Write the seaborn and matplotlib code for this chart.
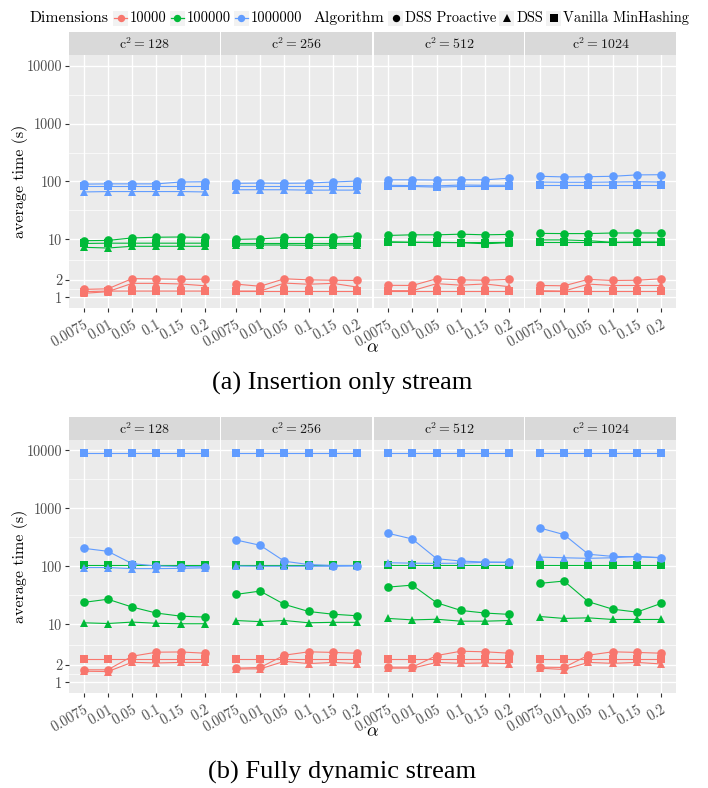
import numpy as np
import pandas as pd
import matplotlib
matplotlib.use("Agg")
import matplotlib.pyplot as plt
import seaborn as sns
from matplotlib.ticker import FixedLocator, NullFormatter
from matplotlib.patches import Rectangle

# ---------------- data ----------------
alpha_labels = ["0.0075", "0.01", "0.05", "0.1", "0.15", "0.2"]
c2_values = [128, 256, 512, 1024]
dimensions = ["10000", "100000", "1000000"]
algorithms = ["DSS Proactive", "DSS", "Vanilla MinHashing"]
y_breaks = [1, 2, 10, 100, 1000, 10000]

# (a) insertion only stream: one row per c^2 facet, values per alpha
ins_pro_d4 = [[1.37, 1.40, 2.10, 2.08, 2.05, 2.05], [1.69, 1.55, 2.09, 2.00, 1.97, 1.95],
              [1.61, 1.60, 2.09, 2.00, 1.97, 2.04], [1.60, 1.58, 2.04, 1.95, 1.97, 2.09]]
ins_dss_d4 = [[1.17, 1.25, 1.74, 1.74, 1.70, 1.58], [1.28, 1.28, 1.76, 1.68, 1.74, 1.50],
              [1.30, 1.30, 1.72, 1.62, 1.70, 1.52], [1.30, 1.28, 1.69, 1.60, 1.60, 1.60]]
ins_van_d4 = [[1.25, 1.28, 1.28, 1.28, 1.28, 1.28], [1.28, 1.28, 1.28, 1.28, 1.28, 1.28],
              [1.28, 1.28, 1.28, 1.28, 1.28, 1.28], [1.28, 1.28, 1.28, 1.28, 1.28, 1.28]]
ins_pro_d5 = [[9.5, 9.6, 10.6, 10.9, 11.0, 10.8], [10.0, 10.2, 10.8, 10.8, 10.8, 11.5],
              [11.7, 12.0, 12.0, 12.3, 12.0, 12.2], [12.7, 12.6, 12.6, 12.9, 12.9, 12.9]]
ins_dss_d5 = [[7.3, 7.1, 7.6, 7.6, 7.6, 7.6], [8.0, 8.0, 8.0, 7.9, 8.0, 8.0],
              [9.1, 8.9, 8.8, 8.8, 8.4, 8.8], [9.8, 9.8, 9.5, 8.9, 9.0, 9.0]]
ins_van_d5 = [[8.5, 8.6, 8.6, 8.6, 8.6, 8.6], [8.8, 8.8, 8.8, 8.8, 8.8, 8.8],
              [8.9, 8.9, 8.9, 8.8, 8.8, 8.9], [9.0, 9.0, 9.0, 9.0, 9.0, 9.0]]
ins_pro_d6 = [[90, 91, 91, 91, 98, 99], [93, 94, 93, 94, 98, 102],
              [107, 107, 106, 107, 107, 114], [123, 120, 121, 123, 130, 131]]
ins_dss_d6 = [[66, 67, 67, 67, 67, 66], [72, 72, 72, 71, 71, 71],
              [86, 85, 84, 87, 86, 86], [98, 97, 97, 98, 99, 98]]
ins_van_d6 = [[84, 84, 84, 84, 84, 84], [85, 85, 85, 85, 85, 85],
              [82, 82, 80, 82, 82, 82], [86, 86, 86, 86, 86, 86]]

# (b) fully dynamic stream
dyn_pro_d4 = [[1.64, 1.64, 2.81, 3.30, 3.33, 3.17], [1.75, 1.80, 2.93, 3.35, 3.27, 3.17],
              [1.82, 1.82, 2.89, 3.43, 3.35, 3.17], [1.82, 1.80, 2.93, 3.35, 3.27, 3.17]]
dyn_dss_d4 = [[1.55, 1.53, 2.21, 2.15, 2.20, 2.20], [1.70, 1.70, 2.30, 2.10, 2.20, 2.10],
              [1.75, 1.75, 2.20, 2.12, 2.15, 2.10], [1.75, 1.66, 2.20, 2.12, 2.20, 2.07]]
dyn_van_d4 = [[2.54, 2.54, 2.54, 2.54, 2.54, 2.54], [2.54, 2.54, 2.54, 2.54, 2.54, 2.54],
              [2.54, 2.54, 2.54, 2.54, 2.54, 2.54], [2.54, 2.54, 2.54, 2.54, 2.54, 2.54]]
dyn_pro_d5 = [[23.8, 27.0, 19.8, 15.6, 13.8, 13.3], [32.7, 37.3, 22.0, 16.6, 14.9, 14.0],
              [43.7, 47.3, 23.5, 17.3, 15.6, 14.8], [50.7, 55.6, 24.5, 18.2, 16.2, 22.9]]
dyn_dss_d5 = [[10.6, 10.3, 10.9, 10.4, 10.2, 10.2], [11.6, 11.1, 11.6, 10.6, 10.8, 10.8],
              [12.6, 11.9, 12.2, 11.3, 11.3, 11.6], [13.6, 12.6, 12.9, 12.1, 12.1, 12.1]]
dyn_van_d5 = [[105, 105, 105, 105, 105, 105], [105, 105, 105, 105, 105, 105],
              [105, 105, 105, 105, 105, 105], [105, 105, 105, 105, 105, 105]]
dyn_pro_d6 = [[204, 181, 111, 101, 99, 98], [284, 230, 122, 107, 103, 103],
              [370, 295, 135, 123, 118, 117], [457, 351, 161, 148, 145, 140]]
dyn_dss_d6 = [[95, 95, 91, 91, 92, 94], [101, 100, 100, 100, 100, 101],
              [115, 113, 112, 113, 117, 117], [144, 140, 137, 140, 148, 141]]
dyn_van_d6 = [[8800, 8800, 8800, 8800, 8800, 8800], [8800, 8800, 8800, 8800, 8800, 8800],
              [8800, 8800, 8800, 8800, 8800, 8800], [8800, 8800, 8800, 8800, 8800, 8800]]

panels = {
    "a": {("10000", "DSS Proactive"): ins_pro_d4, ("10000", "DSS"): ins_dss_d4,
          ("10000", "Vanilla MinHashing"): ins_van_d4,
          ("100000", "DSS Proactive"): ins_pro_d5, ("100000", "DSS"): ins_dss_d5,
          ("100000", "Vanilla MinHashing"): ins_van_d5,
          ("1000000", "DSS Proactive"): ins_pro_d6, ("1000000", "DSS"): ins_dss_d6,
          ("1000000", "Vanilla MinHashing"): ins_van_d6},
    "b": {("10000", "DSS Proactive"): dyn_pro_d4, ("10000", "DSS"): dyn_dss_d4,
          ("10000", "Vanilla MinHashing"): dyn_van_d4,
          ("100000", "DSS Proactive"): dyn_pro_d5, ("100000", "DSS"): dyn_dss_d5,
          ("100000", "Vanilla MinHashing"): dyn_van_d5,
          ("1000000", "DSS Proactive"): dyn_pro_d6, ("1000000", "DSS"): dyn_dss_d6,
          ("1000000", "Vanilla MinHashing"): dyn_van_d6},
}

rows = []
for pname, series in panels.items():
    for (dim, algo), per_facet in series.items():
        for fi, c2 in enumerate(c2_values):
            for ai, lab in enumerate(alpha_labels):
                rows.append(dict(panel=pname, c2=c2, Dimensions=dim, Algorithm=algo,
                                 alpha_pos=alpha_labels.index(lab), time=per_facet[fi][ai]))
df = pd.DataFrame(rows)

# ---------------- style ----------------
plt.rcParams["font.family"] = ["cmr10", "DejaVu Serif"]
plt.rcParams["mathtext.fontset"] = "cm"
plt.rcParams["axes.unicode_minus"] = False
plt.rcParams["axes.formatter.use_mathtext"] = True

palette = {"10000": "#F8766D", "100000": "#00BA38", "1000000": "#619CFF"}
marker_map = {"DSS Proactive": "o", "DSS": "^", "Vanilla MinHashing": "s"}

W, H = 708, 788
fig = plt.figure(figsize=(W / 100, H / 100), dpi=100)


def rect(left, top, w, h):
    return [left / W, 1 - (top + h) / H, w / W, h / H]


facet_left = [69, 221.3, 373.5, 525.2]
facet_w = 150.5
panel_geom = {"a": dict(top=55.0, h=253.0), "b": dict(top=439.5, h=253.5)}
strip_h = 22.6
ylo, yhi = 10 ** -0.185, 10 ** 4.185
lb = np.log10(y_breaks)
minor = [10 ** ((lb[k] + lb[k + 1]) / 2) for k in range(len(lb) - 1)]

for pname, geom in panel_geom.items():
    for i, c2 in enumerate(c2_values):
        ax = fig.add_axes(rect(facet_left[i], geom["top"], facet_w, geom["h"]))
        sub = df[(df.panel == pname) & (df.c2 == c2)]
        sns.lineplot(data=sub, x="alpha_pos", y="time", hue="Dimensions", style="Algorithm",
                     hue_order=dimensions, style_order=algorithms, palette=palette,
                     markers=marker_map, dashes=False, markersize=6.2, markeredgewidth=0,
                     linewidth=0.8, legend=False, errorbar=None, sort=False, ax=ax)
        ax.set_yscale("log")
        ax.set_ylim(ylo, yhi)
        ax.set_xlim(-0.6, 5.6)
        ax.set_facecolor("#EBEBEB")
        for s in ax.spines.values():
            s.set_visible(False)
        ax.yaxis.set_major_locator(FixedLocator(y_breaks))
        ax.set_yticklabels([str(b) for b in y_breaks])
        ax.yaxis.set_minor_locator(FixedLocator(minor))
        ax.yaxis.set_minor_formatter(NullFormatter())
        ax.set_xticks(range(len(alpha_labels)))
        ax.set_xticklabels(alpha_labels, rotation=30, ha="right", rotation_mode="anchor")
        ax.grid(which="major", color="white", linewidth=1.0)
        ax.grid(which="minor", axis="y", color="white", linewidth=0.5)
        ax.set_axisbelow(True)
        ax.tick_params(which="major", length=3, width=0.8, color="#333333",
                       labelcolor="#4D4D4D", labelsize=10.3, pad=2)
        ax.tick_params(which="minor", length=0)
        ax.tick_params(axis="x", pad=4)
        if i > 0:
            ax.tick_params(axis="y", left=False, labelleft=False)
        ax.set_xlabel("")
        ax.set_ylabel("")
        # strip
        sax = fig.add_axes(rect(facet_left[i], geom["top"] - strip_h, facet_w, strip_h))
        sax.set_facecolor("#D9D9D9")
        sax.set_xticks([])
        sax.set_yticks([])
        for s in sax.spines.values():
            s.set_visible(False)
        sax.text(0.5, 0.47, r"$\mathrm{c}^2 = %d$" % c2, ha="center", va="center",
                 fontsize=10, color="#1A1A1A", transform=sax.transAxes)

# axis titles
for yc, xt_y in [(181, 348), (566, 732)]:
    fig.text(20 / W, 1 - yc / H, "average time (s)", rotation=90, ha="center", va="center",
             fontsize=11.5, color="black")
    fig.text(372 / W, 1 - xt_y / H, r"$\alpha$", ha="center", va="center", fontsize=13)

# captions
fig.text(342 / W, 1 - 383 / H, "(a) Insertion only stream", ha="center", va="center",
         fontsize=19, family="Liberation Serif")
fig.text(342 / W, 1 - 772 / H, "(b) Fully dynamic stream", ha="center", va="center",
         fontsize=19, family="Liberation Serif")

# legend row, laid out left to right by measured text widths
lax = fig.add_axes([0, 0, 1, 1], zorder=5)
lax.set_xlim(0, W)
lax.set_ylim(H, 0)
lax.axis("off")
renderer = fig.canvas.get_renderer()
ly = 18
key = 15


def put_text(x, s, size):
    t = lax.text(x, ly, s, fontsize=size, va="center", ha="left")
    return x + t.get_window_extent(renderer=renderer).width


def put_key(x, color, marker, with_line):
    cx = x + key / 2
    lax.add_patch(Rectangle((x, ly - key / 2), key, key, color="#F2F2F2", lw=0))
    if with_line:
        lax.plot([x + 1, x + key - 1], [ly, ly], color=color, lw=0.9)
    lax.plot([cx], [ly], marker=marker, color=color, markersize=5.3, mew=0)
    return x + key


x = 30
x = put_text(x, "Dimensions", 11.4) + 4
for dim in dimensions:
    x = put_key(x, palette[dim], "o", True) + 2
    x = put_text(x, dim, 10.4) + 3
x += 8
x = put_text(x, "Algorithm", 11.4) + 4
for algo in algorithms:
    x = put_key(x, "black", marker_map[algo], False) + 2
    x = put_text(x, algo, 10.4) + 3

fig.savefig("out.png", dpi=100, facecolor="white")
